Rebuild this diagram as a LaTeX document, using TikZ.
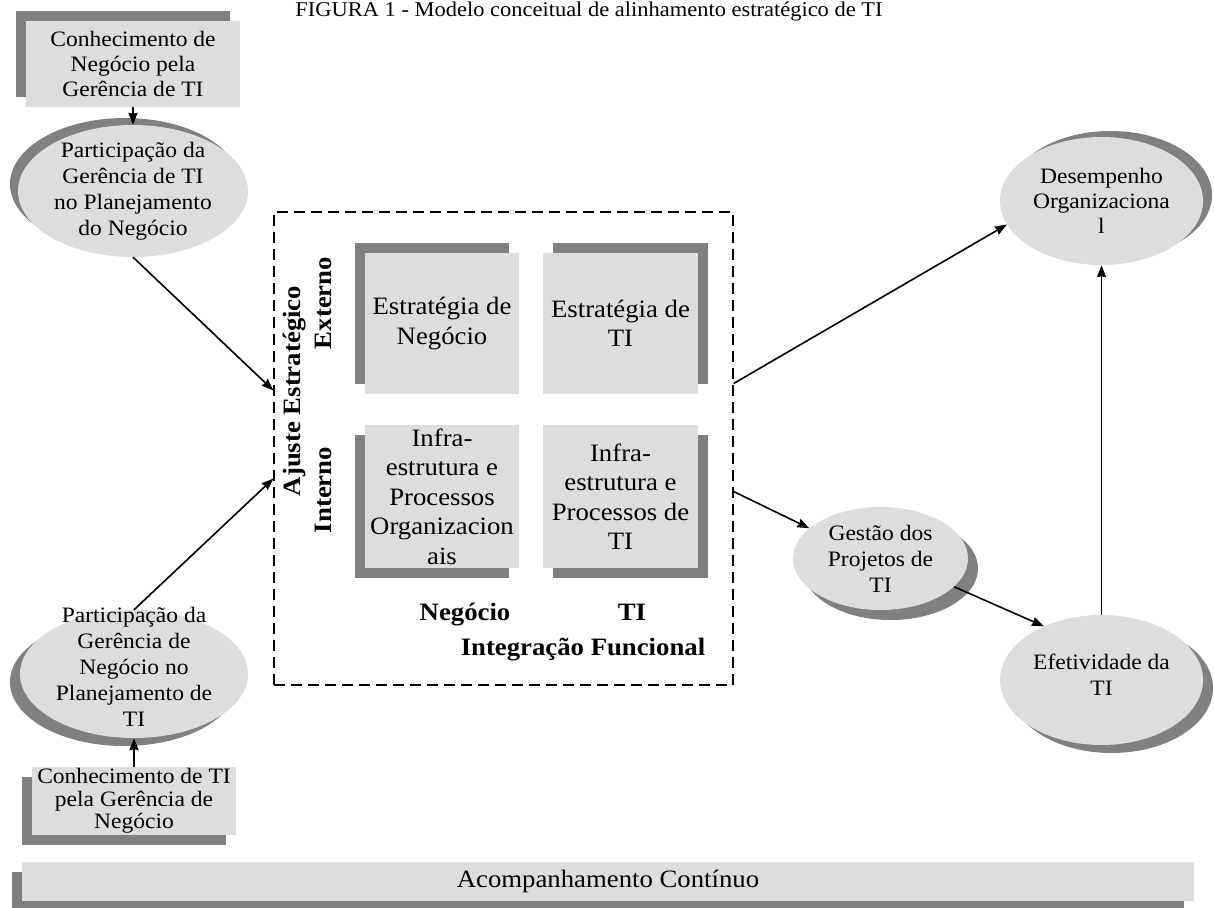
\documentclass[tikz,border=0pt]{standalone}
\usepackage{fontspec}
\setmainfont{Liberation Serif}[FakeStretch=1.07]
\usetikzlibrary{arrows.meta, shapes.geometric, shadows}
\definecolor{boxgray}{HTML}{DDDDDD}
\definecolor{shadowgray}{HTML}{808080}

\begin{document}
\begin{tikzpicture}[x=1pt, y=-1pt,
    dropto/.style 2 args={drop shadow={shadow xshift=#1, shadow yshift=#2, fill=shadowgray, opacity=1}},
    card/.style={rectangle, fill=boxgray, inner sep=0pt, align=center},
    blob/.style={ellipse, fill=boxgray, inner sep=0pt},
    blobtext/.style={align=center, inner sep=0pt, font=\fontsize{22}{26}\selectfont},
    txtS/.style={font=\fontsize{22}{25}\selectfont},
    txtL/.style={font=\fontsize{25}{29.5}\selectfont},
    axislabel/.style={font=\bfseries\fontsize{25}{29}\selectfont, inner sep=0pt},
    flow/.style={-{Stealth[length=12pt, width=9pt, inset=1pt]}, line width=1.6pt}]
  \useasboundingbox (0,0) rectangle (1214,907);
  \clip (0,0) rectangle (1214,907);

  % caption
  \node[anchor=base, inner sep=0pt, font=\fontsize{21}{24}\selectfont] (caption) at (589,17)
    {FIGURA 1 - Modelo conceitual de alinhamento estratégico de TI};

  % left column
  \node[card, txtS, dropto={-10pt}{10pt}, minimum width=214pt, minimum height=86pt] (ckbiz) at (133,64)
    {Conhecimento de\\Negócio pela\\Gerência de TI};
  \node[blob, dropto={-8pt}{7pt}, minimum width=230pt, minimum height=132pt,
        label={[blobtext]center:{Participação da\\Gerência de TI\\no Planejamento\\do Negócio}}] (pgti) at (133,191) {};
  \node[blob, dropto={-10pt}{-8pt}, minimum width=228pt, minimum height=128pt,
        label={[blobtext, yshift=7pt]center:{Participação da\\Gerência de\\Negócio no\\Planejamento de\\TI}}] (pgbiz) at (134,674) {};
  \node[card, font=\fontsize{22}{22.5}\selectfont, dropto={-10pt}{-10pt}, minimum width=204pt, minimum height=68pt] (ckti) at (134,801)
    {Conhecimento de TI\\pela Gerência de\\Negócio};

  % alignment model
  \node[draw, dash pattern=on 11pt off 6pt, line width=1.2pt, minimum width=459pt, minimum height=473pt, inner sep=0pt] (frame) at (503.5,448.5) {};
  \node[card, txtL, dropto={-10pt}{10pt}, minimum width=154pt, minimum height=141pt] (stbiz) at (442,323.5)
    {Estratégia de\\Negócio};
  \node[card, txtL, dropto={10pt}{10pt}, minimum width=155pt, minimum height=141pt] (stti) at (620.5,323.5)
    {Estratégia de\\TI};
  \node[card, txtL, dropto={-10pt}{-10pt}, minimum width=154pt, minimum height=143pt] (infbiz) at (442,496.5)
    {Infra-\\estrutura e\\Processos\\Organizacion\\ais};
  \node[card, txtL, dropto={10pt}{-10pt}, minimum width=155pt, minimum height=143pt] (infti) at (620.5,496.5)
    {Infra-\\estrutura e\\Processos de\\TI};
  \node[axislabel, rotate=90] (ajuste) at (295,391) {Ajuste Estratégico};
  \node[axislabel, rotate=90] (externo) at (323,303) {Externo};
  \node[axislabel, rotate=90] (interno) at (323,490) {Interno};
  \node[axislabel, anchor=base] (negocio) at (465,620) {Negócio};
  \node[axislabel, anchor=base] (ti) at (632,620) {TI};
  \node[axislabel, anchor=base] (integracao) at (583,655) {Integração Funcional};

  % right column
  \node[blob, dropto={9pt}{6pt}, minimum width=203pt, minimum height=128pt,
        label={[blobtext, font=\fontsize{22}{25}\selectfont]center:{Desempenho\\Organizaciona\\l}}] (desemp) at (1101.5,201) {};
  \node[blob, dropto={10pt}{-10pt}, minimum width=175pt, minimum height=103pt,
        label={[blobtext]center:{Gestão dos\\Projetos de\\TI}}] (gestao) at (880.5,558.5) {};
  \node[blob, dropto={10pt}{-8pt}, minimum width=203pt, minimum height=130pt,
        label={[blobtext, yshift=5pt]center:{Efetividade da\\TI}}] (efet) at (1101.5,680) {};

  % bottom bar
  \node[card, txtL, dropto={-10pt}{-10pt}, minimum width=1172pt, minimum height=39pt] (acomp) at (608,881.5)
    {Acompanhamento Contínuo};

  % connectors
  \draw[flow] (ckbiz) -- (pgti);
  \draw[flow] (ckti) -- (pgbiz);
  \draw[flow] (pgti.south) -- ([yshift=58pt]frame.west);
  \draw[flow] (pgbiz.north) -- ([yshift=-30pt]frame.west);
  \draw[flow] ([yshift=65pt]frame.east) -- (desemp.194);
  \draw[flow] ([yshift=-43pt]frame.east) -- (gestao.157);
  \draw[flow] (gestao.-21) -- (efet.137);
  \draw[flow] (efet) -- (desemp);
\end{tikzpicture}
\end{document}
